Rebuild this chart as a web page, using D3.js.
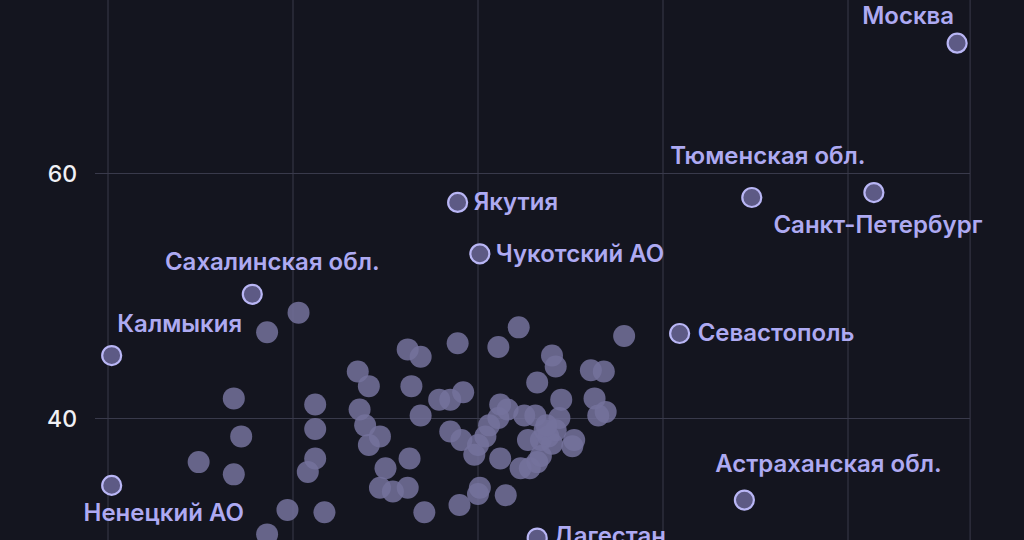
<!DOCTYPE html><html><head><meta charset="utf-8">
<script src="https://cdn.jsdelivr.net/npm/d3@7"></script>
<style>body{margin:0;background:#14151f}svg{display:block}</style></head><body>
<svg id="c" width="1024" height="540"></svg>
<script>
const labeledNames=["Москва","Тюменская обл.","Санкт-Петербург","Якутия","Чукотский АО","Сахалинская обл.","Калмыкия","Севастополь","Астраханская обл.","Ненецкий АО","Дагестан"];
const labeledX=[45.9,34.8,41.4,18.9,20.1,7.8,0.2,30.9,34.4,0.2,23.2];
const labeledY=[70.6,58.0,58.4,57.6,53.4,50.1,45.1,46.9,33.3,34.5,30.2];
const otherX=[8.6,10.3,6.8,7.2,4.9,6.8,11.2,11.2,11.2,10.8,9.7,11.7,8.6,13.5,14.1,13.6,13.9,14.1,14.7,15.0,14.7,15.4,16.2,16.3,16.2,16.9,16.4,16.9,17.1,17.9,18.5,18.9,19.2,18.5,19.1,19.8,19.0,20.0,20.1,20.0,20.4,20.6,21.1,21.6,21.1,22.2,21.2,21.5,22.3,22.8,23.2,23.4,22.7,23.6,23.8,24.0,24.2,24.4,24.5,24.0,24.2,23.2,23.1,25.2,25.1,26.1,26.8,26.3,26.5,26.9,27.9,23.4,23.7,22.5,21.2];
const otherY=[47.0,48.6,41.6,38.5,36.4,35.4,41.1,39.1,36.7,35.6,32.5,32.3,30.5,43.8,42.6,40.7,39.4,37.8,38.5,35.9,34.3,34.0,34.3,36.7,45.6,45.0,42.6,40.2,32.3,41.5,41.5,46.1,42.1,38.9,38.2,37.0,32.9,33.8,34.3,37.8,38.5,39.4,40.0,40.7,45.8,47.4,36.7,33.7,35.9,35.9,36.4,38.2,38.2,39.0,38.5,37.9,39.0,40.0,41.5,45.1,44.2,42.9,40.2,38.2,37.7,43.9,43.8,41.6,40.2,40.5,46.7,36.9,39.4,40.2,41.1];
const yTicks=[40,60];
const xTicks=[0,10,20,30,40];
// label placement: [dx, dy, anchor]
const place={"Москва":[-3,-19,"end"],"Тюменская обл.":[16,-34,"middle"],"Санкт-Петербург":[4,40,"middle"],"Якутия":[16,8,"start"],"Чукотский АО":[16,8,"start"],"Сахалинская обл.":[20,-24,"middle"],"Калмыкия":[68,-24,"middle"],"Севастополь":[18,8,"start"],"Астраханская обл.":[84,-28,"middle"],"Ненецкий АО":[52,36,"middle"],"Дагестан":[16,6,"start"]};

const svg=d3.select("#c");
const x=d3.scaleLinear().domain([0,10]).range([108,293]);
const y=d3.scaleLinear().domain([40,60]).range([418,173]);
const grid="#393a4b";
svg.append("g").selectAll("line").data(xTicks.concat([46.6])).join("line")
 .attr("x1",d=>x(d)).attr("x2",d=>x(d)).attr("y1",0).attr("y2",540).attr("stroke",grid);
const ya=svg.append("g").attr("transform","translate(970,0)")
 .call(d3.axisLeft(y).tickValues(yTicks).tickSize(875).tickPadding(18));
ya.select(".domain").remove();
ya.selectAll("line").attr("stroke",grid);
ya.selectAll("text").attr("fill","#f0f0f5").attr("font-family","Inter, sans-serif").attr("font-weight",500).attr("font-size",23).attr("dy","0.35em");
svg.append("g").selectAll("circle").data(otherX.map((v,i)=>[v,otherY[i]])).join("circle")
 .attr("cx",d=>x(d[0])).attr("cy",d=>y(d[1])).attr("r",11).attr("fill","#74729c").attr("fill-opacity",0.85);
const L=labeledNames.map((n,i)=>({n,x:labeledX[i],y:labeledY[i]}));
svg.append("g").selectAll("circle").data(L).join("circle")
 .attr("cx",d=>x(d.x)).attr("cy",d=>y(d.y)).attr("r",9.5).attr("fill","#5d5a85").attr("stroke","#b9b6f5").attr("stroke-width",2.2);
svg.append("g").selectAll("text").data(L).join("text")
 .attr("x",d=>x(d.x)+place[d.n][0]).attr("y",d=>y(d.y)+place[d.n][1])
 .attr("text-anchor",d=>place[d.n][2]).attr("fill","#aeaaf2")
 .attr("font-family","Inter, sans-serif").attr("font-weight",600).attr("font-size",24).text(d=>d.n);
</script></body></html>
